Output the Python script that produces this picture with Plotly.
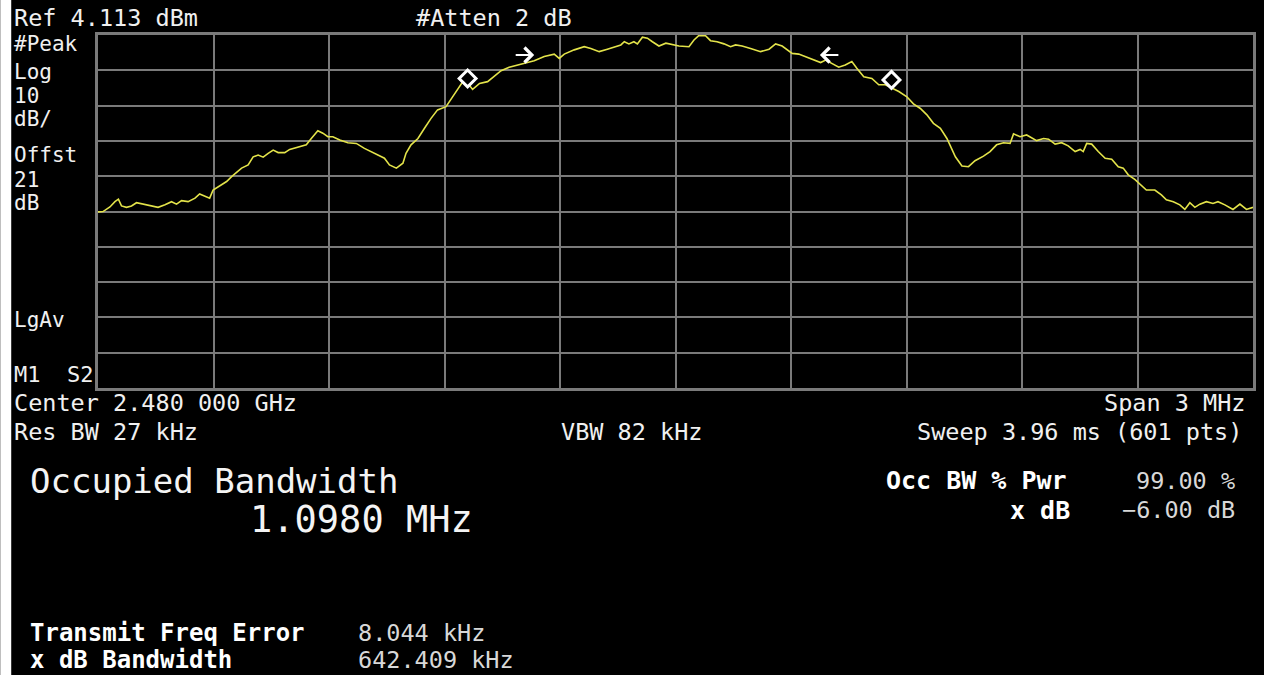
import plotly.graph_objects as go

center_ghz = 2.480
span_mhz = 3.0
ref_dbm = 4.113
db_per_div = 10

freq_mhz = [
    2478.500, 2478.513, 2478.531, 2478.544, 2478.553, 2478.561, 2478.574, 2478.587, 2478.600, 2478.617,
    2478.635, 2478.656, 2478.674, 2478.691, 2478.704, 2478.717, 2478.734, 2478.752, 2478.764, 2478.777,
    2478.790, 2478.799, 2478.816, 2478.834, 2478.847, 2478.860, 2478.873, 2478.890, 2478.903, 2478.916,
    2478.929, 2478.942, 2478.955, 2478.968, 2478.985, 2478.998, 2479.015, 2479.028, 2479.041, 2479.054,
    2479.071, 2479.084, 2479.097, 2479.110, 2479.128, 2479.149, 2479.171, 2479.192, 2479.214, 2479.231,
    2479.244, 2479.257, 2479.275, 2479.292, 2479.300, 2479.313, 2479.331, 2479.348, 2479.365, 2479.382,
    2479.404, 2479.421, 2479.439, 2479.452, 2479.473, 2479.491, 2479.512, 2479.529, 2479.547, 2479.568,
    2479.590, 2479.612, 2479.633, 2479.659, 2479.685, 2479.698, 2479.711, 2479.737, 2479.763, 2479.780,
    2479.802, 2479.823, 2479.845, 2479.858, 2479.867, 2479.879, 2479.892, 2479.901, 2479.914, 2479.927,
    2479.940, 2479.957, 2479.975, 2479.992, 2480.009, 2480.035, 2480.048, 2480.061, 2480.078, 2480.091,
    2480.108, 2480.126, 2480.143, 2480.156, 2480.173, 2480.195, 2480.221, 2480.243, 2480.260, 2480.277,
    2480.290, 2480.303, 2480.320, 2480.342, 2480.364, 2480.377, 2480.390, 2480.407, 2480.424, 2480.441,
    2480.458, 2480.471, 2480.489, 2480.510, 2480.528, 2480.545, 2480.558, 2480.580, 2480.601, 2480.618,
    2480.636, 2480.653, 2480.670, 2480.688, 2480.705, 2480.714, 2480.727, 2480.744, 2480.761, 2480.778,
    2480.800, 2480.817, 2480.834, 2480.852, 2480.869, 2480.878, 2480.895, 2480.912, 2480.938, 2480.956,
    2480.969, 2480.986, 2481.003, 2481.020, 2481.038, 2481.051, 2481.059, 2481.068, 2481.081, 2481.098,
    2481.116, 2481.133, 2481.150, 2481.163, 2481.176, 2481.193, 2481.210, 2481.223, 2481.245, 2481.262,
    2481.275, 2481.293, 2481.310, 2481.323, 2481.336, 2481.349, 2481.362, 2481.379, 2481.396, 2481.409,
    2481.427, 2481.448, 2481.466, 2481.483, 2481.500,
]

level_dbm = [
    -46.0, -45.9, -44.6, -43.1, -42.4, -44.3, -44.7, -44.3, -43.4, -43.8,
    -44.1, -44.7, -44.0, -43.1, -43.8, -42.8, -43.1, -42.1, -40.9, -41.5,
    -42.1, -39.8, -38.7, -37.4, -36.0, -34.9, -33.6, -32.7, -30.4, -29.9,
    -30.5, -29.4, -28.5, -29.2, -29.2, -28.3, -27.8, -27.3, -27.0, -25.2,
    -23.0, -23.7, -24.7, -24.7, -25.6, -26.4, -26.6, -28.0, -29.2, -29.9,
    -30.8, -32.7, -33.6, -32.2, -29.4, -27.0, -25.2, -22.3, -19.5, -17.1,
    -16.2, -13.4, -10.5, -8.4, -11.3, -9.6, -9.1, -7.7, -6.0, -5.0,
    -4.4, -3.7, -3.2, -2.0, -1.3, -2.5, -1.3, -0.1, 0.8, 0.3,
    -0.6, 0.1, 0.8, 1.3, 2.2, 1.6, 2.2, 1.6, 3.5, 3.2,
    2.2, 1.0, 1.8, 1.3, 1.0, 0.8, 2.7, 4.0, 3.9, 2.5,
    2.2, 1.6, 0.8, 1.3, 1.0, 0.3, -0.6, 0.1, 1.6, 1.0,
    -0.1, -1.1, -1.3, -2.2, -3.0, -3.7, -3.0, -3.9, -5.0, -4.4,
    -3.4, -5.3, -7.7, -8.2, -10.0, -10.0, -10.7, -11.9, -13.4, -15.4,
    -16.7, -18.5, -20.9, -22.3, -25.2, -27.5, -30.4, -33.0, -33.2, -31.5,
    -30.2, -28.9, -27.0, -26.4, -26.6, -23.9, -24.7, -24.2, -25.8, -25.2,
    -25.4, -26.8, -26.4, -27.3, -28.9, -28.3, -28.9, -26.6, -26.8, -28.9,
    -30.8, -31.1, -33.2, -33.6, -35.5, -36.8, -38.4, -39.8, -39.8, -41.2,
    -42.6, -43.1, -44.0, -45.3, -43.4, -44.7, -43.8, -43.1, -43.6, -43.1,
    -44.0, -45.3, -43.8, -45.3, -44.7,
]

# occupied-bandwidth markers (diamonds) and x dB arrows
obw_marker_freq = [2479.460, 2480.561]
obw_marker_level = [-8.2, -8.6]
xdb_arrow_freq = [2479.633, 2480.375]
xdb_arrow_level = [-1.55, -1.55]

# ---------------- figure ----------------
W, H = 1264, 675
L, R, T, B = 98, 1256, 35, 388          # plot frame in pixels
PW, PH = R - L, B - T

def px(x):
    return (x - L) / PW

def py(y):
    return (B - y) / PH

f_lo = center_ghz * 1000 - span_mhz / 2
f_hi = center_ghz * 1000 + span_mhz / 2
y_top = ref_dbm
y_bot = ref_dbm - 10 * db_per_div

GRID = "#7a7a7a"
TRACE = "#e3e34a"
MONO = "DejaVu Sans Mono"

fig = go.Figure()
fig.add_trace(go.Scatter(
    x=freq_mhz, y=level_dbm, mode="lines",
    line=dict(color=TRACE, width=1.6), hoverinfo="skip", showlegend=False,
))
fig.add_trace(go.Scatter(
    x=obw_marker_freq, y=obw_marker_level, mode="markers",
    marker=dict(symbol="diamond", size=13, color="black",
                line=dict(color="white", width=3)),
    hoverinfo="skip", showlegend=False,
))

annotations = []
# x dB arrows (tip at the data point, tail offset in pixels)
for f, lv, tail in zip(xdb_arrow_freq, xdb_arrow_level, (-20, 20)):
    annotations.append(dict(
        x=f, y=lv, xref="x", yref="y", text="", showarrow=True,
        ax=tail, ay=0, axref="pixel", ayref="pixel",
        arrowhead=4, arrowsize=1.6, arrowwidth=1.8, arrowcolor="white",
        standoff=0, startstandoff=0,
    ))

# screen texts: (text, x_px, y_px, anchor, size, bold, color)
S = 23.5
texts = [
    ("Ref 4.113 dBm", 12, 18, "left", S, False, "#f0f0f0"),
    ("#Atten 2 dB", 415, 18, "left", S, False, "#f0f0f0"),
    ("#Peak", 12, 44, "left", 21, False, "#f0f0f0"),
    ("Log", 12, 72, "left", 21, False, "#f0f0f0"),
    ("10", 12, 96, "left", 21, False, "#f0f0f0"),
    ("dB/", 12, 119, "left", 21, False, "#f0f0f0"),
    ("Offst", 12, 155, "left", 21, False, "#f0f0f0"),
    ("21", 12, 180, "left", 21, False, "#f0f0f0"),
    ("dB", 12, 203, "left", 21, False, "#f0f0f0"),
    ("LgAv", 12, 320, "left", 21, False, "#f0f0f0"),
    ("M1  S2", 12, 374, "left", 22, False, "#f0f0f0"),
    ("Center 2.480 000 GHz", 12, 403, "left", S, False, "#f0f0f0"),
    ("Res BW 27 kHz", 12, 432, "left", S, False, "#f0f0f0"),
    ("VBW 82 kHz", 560, 432, "left", S, False, "#f0f0f0"),
    ("Span 3 MHz", 1250, 403, "right", S, False, "#f0f0f0"),
    ("Sweep 3.96 ms (601 pts)", 1247, 432, "right", S, False, "#f0f0f0"),
    ("Occupied Bandwidth", 28, 481, "left", 34, False, "#f4f4f4"),
    ("1.0980 MHz", 248, 519, "left", 37, False, "#f4f4f4"),
    ("Occ BW % Pwr", 886, 481, "left", 25, True, "#ffffff"),
    ("x dB", 1075, 510, "right", 25, True, "#ffffff"),
    ("99.00 %", 1240, 481, "right", S, False, "#d8d8d8"),
    ("\u22126.00 dB", 1240, 510, "right", S, False, "#d8d8d8"),
    ("Transmit Freq Error", 28, 633, "left", 24, True, "#ffffff"),
    ("x dB Bandwidth", 28, 660, "left", 24, True, "#ffffff"),
    ("8.044 kHz", 357, 633, "left", S, False, "#d8d8d8"),
    ("642.409 kHz", 357, 660, "left", S, False, "#d8d8d8"),
]
for t, x, y, anc, size, bold, col in texts:
    annotations.append(dict(
        x=px(x), y=py(y), xref="paper", yref="paper",
        text=f"<b>{t}</b>" if bold else t,
        showarrow=False, xanchor=anc, yanchor="middle",
        font=dict(family=MONO, size=size, color=col),
    ))

fig.update_layout(
    width=W, height=H,
    margin=dict(l=L, r=W - R, t=T, b=H - B, pad=0),
    paper_bgcolor="black", plot_bgcolor="black",
    annotations=annotations,
    shapes=[dict(type="rect", xref="paper", yref="paper",
                 x0=px(0), x1=px(11), y0=py(H), y1=py(0),
                 fillcolor="white", line=dict(width=0), layer="above")],
    hovermode=False,
    showlegend=False,
)
fig.update_xaxes(range=[f_lo, f_hi], tick0=f_lo, dtick=span_mhz / 10,
                 showgrid=True, gridcolor=GRID, gridwidth=2,
                 showline=True, linecolor=GRID, linewidth=3, mirror=True,
                 zeroline=False, showticklabels=False, ticks="", fixedrange=True)
fig.update_yaxes(range=[y_bot, y_top], tick0=y_top, dtick=db_per_div,
                 showgrid=True, gridcolor=GRID, gridwidth=2,
                 showline=True, linecolor=GRID, linewidth=3, mirror=True,
                 zeroline=False, showticklabels=False, ticks="", fixedrange=True)

fig.write_html("out.html", config={"displayModeBar": False},
               post_script="document.body.style.margin='0';document.body.style.overflow='hidden';document.body.style.background='black';")
